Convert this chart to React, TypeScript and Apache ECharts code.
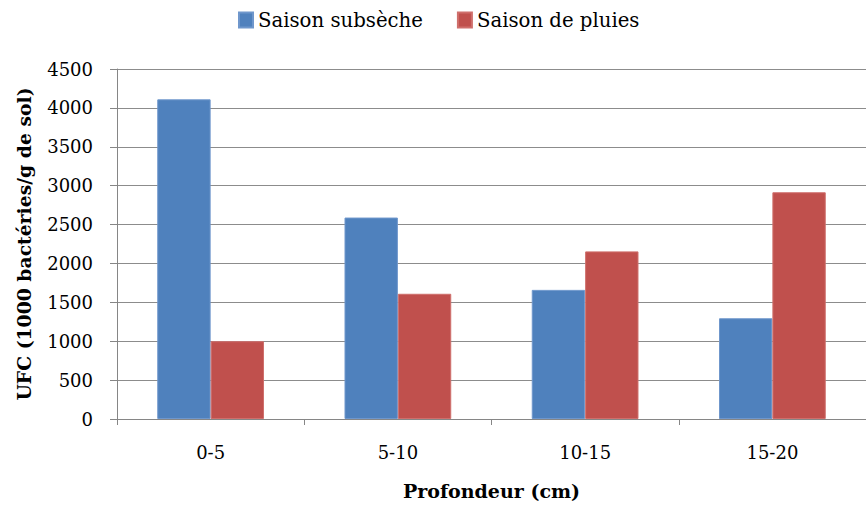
import React, { useEffect, useRef } from "react";
import * as echarts from "echarts";

const categories = ["0-5", "5-10", "10-15", "15-20"];
const seriesNames = ["Saison subsèche", "Saison de pluies"];
const subseche = [4110, 2590, 1660, 1295];
const pluies = [1000, 1610, 2155, 2915];
const yTicks = { min: 0, max: 4500, interval: 500 };

const FONT = "DejaVu Serif";

export default function App() {
  const ref = useRef<HTMLDivElement>(null);
  useEffect(() => {
    document.body.style.margin = "0";
    const chart = echarts.init(ref.current!, null, { renderer: "svg" });
    chart.setOption({
      animation: false,
      backgroundColor: "#ffffff",
      textStyle: { fontFamily: FONT },
      legend: {
        left: 233,
        top: 5,
        itemWidth: 14,
        itemHeight: 15,
        itemGap: 34,
        icon: "rect",
        textStyle: { fontFamily: FONT, fontSize: 19.7, color: "#000" },
        data: seriesNames,
      },
      grid: { left: 117, right: 0, top: 69, bottom: 87, containLabel: false },
      xAxis: {
        type: "category",
        data: categories,
        axisLine: { lineStyle: { color: "#868686", width: 1 } },
        axisTick: { show: true, alignWithLabel: false, length: 6, lineStyle: { color: "#868686" } },
        axisLabel: { fontFamily: FONT, fontSize: 18, color: "#000", margin: 24 },
        name: "Profondeur (cm)",
        nameLocation: "middle",
        nameGap: 62,
        nameTextStyle: { fontFamily: FONT, fontSize: 19, fontWeight: "bold", color: "#000" },
      },
      yAxis: {
        type: "value",
        min: yTicks.min,
        max: yTicks.max,
        interval: yTicks.interval,
        axisLine: { show: true, lineStyle: { color: "#868686", width: 1 } },
        axisTick: { show: true, length: 7, lineStyle: { color: "#868686" } },
        splitLine: { show: true, lineStyle: { color: "#8c8c8c", width: 1 } },
        axisLabel: {
          fontFamily: FONT,
          fontSize: 18,
          color: "#000",
          margin: 24,
          formatter: (v: number) => String(v),
        },
        name: "UFC (1000 bactéries/g de sol)",
        nameLocation: "middle",
        nameRotate: 90,
        nameGap: 84,
        nameTextStyle: { fontFamily: FONT, fontSize: 18.8, fontWeight: "bold", color: "#000" },
      },
      series: [
        {
          name: seriesNames[0],
          type: "bar",
          data: subseche,
          barGap: "0%",
          barCategoryGap: "43%",
          itemStyle: { color: "#4F81BD", borderColor: "#6f97cc", borderWidth: 1 },
        },
        {
          name: seriesNames[1],
          type: "bar",
          data: pluies,
          barGap: "0%",
          barCategoryGap: "43%",
          itemStyle: { color: "#C0504D", borderColor: "#cf6f6c", borderWidth: 1 },
        },
      ],
    });
    return () => chart.dispose();
  }, []);
  return <div ref={ref} style={{ width: 866, height: 506 }} />;
}
